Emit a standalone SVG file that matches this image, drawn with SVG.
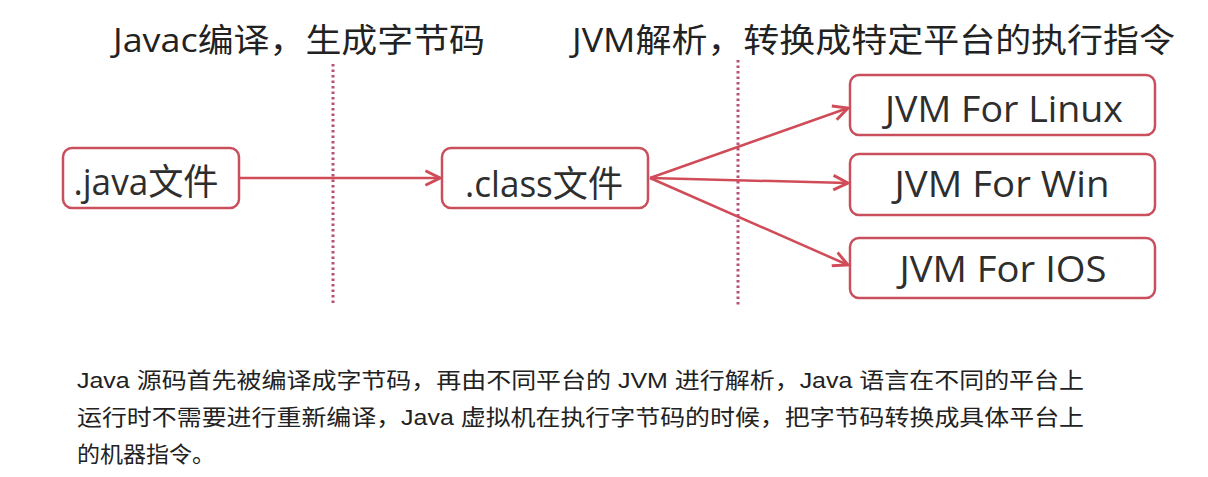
<svg xmlns="http://www.w3.org/2000/svg" width="1208" height="477" viewBox="0 0 1208 477">
<style>
.box{fill:#fff;stroke:#c94f5c;stroke-width:2.5}
.lbl{font-family:"Open Sans","Noto Sans CJK SC",sans-serif;font-size:36px;fill:#2e2e2e;text-anchor:middle}
.head{font-family:"Open Sans","Noto Sans CJK SC",sans-serif;font-size:33px;fill:#222}
.para{font-family:"Liberation Sans","Noto Sans CJK SC",sans-serif;font-size:22px;fill:#222}
.dot{stroke:#b8507a;stroke-width:3;stroke-dasharray:2.5 3;fill:none}
.conn{stroke:#d04c58;stroke-width:2.5;fill:none;marker-end:url(#arr)}
</style>
<defs>
<marker id="arr" viewBox="0 0 12 12" refX="11" refY="6" markerWidth="7" markerHeight="7" markerUnits="strokeWidth" orient="auto">
<path d="M1,1 L11,6 L1,11" fill="none" stroke="#d04c58" stroke-width="2"/>
</marker>
</defs>
<rect width="1208" height="477" fill="#fff"/>
<g id="headings">
<text class="head" x="113" y="52" textLength="372" lengthAdjust="spacingAndGlyphs">Javac编译，生成字节码</text>
<text class="head" x="572" y="52" textLength="603" lengthAdjust="spacingAndGlyphs">JVM解析，转换成特定平台的执行指令</text>
</g>
<g id="dividers">
<line class="dot" x1="333" y1="64" x2="333" y2="305"/>
<line class="dot" x1="738" y1="60" x2="738" y2="307"/>
</g>
<g id="connectors">
<line class="conn" x1="240" y1="178" x2="440" y2="178"/>
<line class="conn" x1="650" y1="178" x2="848" y2="108"/>
<line class="conn" x1="650" y1="178" x2="848" y2="183"/>
<line class="conn" x1="650" y1="178" x2="848" y2="265"/>
</g>
<g id="node-java">
<rect class="box" x="63" y="148" width="176" height="60" rx="9"/>
<text class="lbl" x="146" y="195" textLength="145" lengthAdjust="spacingAndGlyphs">.java文件</text>
</g>
<g id="node-class">
<rect class="box" x="442" y="148" width="206" height="60" rx="9"/>
<text class="lbl" x="544" y="197" textLength="158" lengthAdjust="spacingAndGlyphs">.class文件</text>
</g>
<g id="node-linux">
<rect class="box" x="850" y="75" width="305" height="60" rx="9"/>
<text class="lbl" x="1004" y="122" textLength="238" lengthAdjust="spacingAndGlyphs">JVM For Linux</text>
</g>
<g id="node-win">
<rect class="box" x="850" y="154" width="305" height="61" rx="9"/>
<text class="lbl" x="1002" y="197" textLength="215" lengthAdjust="spacingAndGlyphs">JVM For Win</text>
</g>
<g id="node-ios">
<rect class="box" x="850" y="238" width="305" height="60" rx="9"/>
<text class="lbl" x="1003" y="282" textLength="207" lengthAdjust="spacingAndGlyphs">JVM For IOS</text>
</g>
<g id="paragraph">
<text class="para" x="77" y="388" textLength="1007" lengthAdjust="spacingAndGlyphs">Java 源码首先被编译成字节码，再由不同平台的 JVM 进行解析，Java 语言在不同的平台上</text>
<text class="para" x="77" y="425" textLength="1007" lengthAdjust="spacingAndGlyphs">运行时不需要进行重新编译，Java 虚拟机在执行字节码的时候，把字节码转换成具体平台上</text>
<text class="para" x="77" y="462" textLength="138" lengthAdjust="spacingAndGlyphs">的机器指令。</text>
</g>
</svg>
